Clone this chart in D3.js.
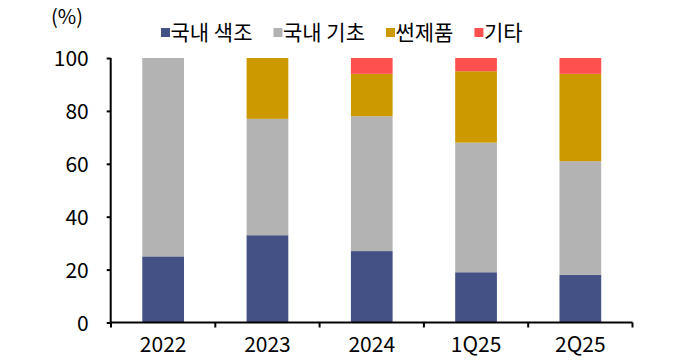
<!DOCTYPE html>
<html><head><meta charset="utf-8">
<script src="https://cdn.jsdelivr.net/npm/d3@7"></script>
<style>body{margin:0;background:#fff}svg{display:block}text{font-family:"Noto Sans CJK KR","Noto Sans",sans-serif;fill:#000}</style>
</head><body><svg id="c" width="680" height="360"></svg>
<script>
const categories = ["2022","2023","2024","1Q25","2Q25"];
const seriesNames = ["국내 색조","국내 기초","썬제품","기타"];
const seriesColors = ["#435185","#b3b3b3","#cc9900","#ff5050"];
const domesticColor = [25,33,27,19,18];
const domesticBasic = [75,44,51,49,43];
const sunProducts = [0,23,16,27,33];
const others = [0,0,6,5,6];
const yTicks = [0,20,40,60,80,100];

const rows = categories.map((c,i)=>({cat:c, s0:domesticColor[i], s1:domesticBasic[i], s2:sunProducts[i], s3:others[i]}));
const keys = ["s0","s1","s2","s3"];
const stack = d3.stack().keys(keys)(rows);

const svg = d3.select("#c");
const x = d3.scaleBand().domain(categories).range([111,632.5]).paddingInner(0.6).paddingOuter(0.3);
const y = d3.scaleLinear().domain([0,100]).range([322.5,58]);

// bars
svg.append("g").selectAll("g").data(stack).join("g")
  .attr("fill",(d,i)=>seriesColors[i])
  .selectAll("rect").data(d=>d).join("rect")
  .attr("x",d=>x(d.data.cat)).attr("width",x.bandwidth())
  .attr("y",d=>y(d[1])).attr("height",d=>y(d[0])-y(d[1]));

// y axis
const ya = svg.append("g").attr("transform","translate(110.7,0)")
  .call(d3.axisLeft(y).tickValues(yTicks).tickSize(4).tickPadding(18).tickFormat(d3.format("d")));
ya.select(".domain").attr("d",`M0,${y(100)}V${y(0)}`).attr("stroke","#000").attr("stroke-width",2);
ya.selectAll(".tick line").attr("stroke","#000").attr("stroke-width",2);
ya.selectAll(".tick text").attr("font-size",21).attr("dy","0.36em");

// x axis
const step = x.step();
const bounds = categories.map(c=>x(c)-step*x.paddingInner()/2).concat([x(categories[categories.length-1])+x.bandwidth()+step*x.paddingInner()/2]);
const xa = svg.append("g");
xa.append("line").attr("x1",bounds[0]).attr("x2",bounds[bounds.length-1]).attr("y1",y(0)).attr("y2",y(0)).attr("stroke","#000").attr("stroke-width",2);
xa.selectAll("line.t").data(bounds).join("line").attr("class","t")
  .attr("x1",d=>d).attr("x2",d=>d).attr("y1",y(0)).attr("y2",y(0)+5).attr("stroke","#000").attr("stroke-width",2);
xa.selectAll("text").data(categories).join("text")
  .attr("x",d=>x(d)+x.bandwidth()/2).attr("y",352).attr("text-anchor","middle").attr("font-size",21).text(d=>d);

// unit
svg.append("text").attr("x",51).attr("y",24).attr("font-size",20).text("(%)");

// legend
const lg = svg.append("g");
let lx = 161;
seriesNames.forEach((n,i)=>{
  lg.append("rect").attr("x",lx).attr("y",28).attr("width",9).attr("height",9).attr("fill",seriesColors[i]);
  const t = lg.append("text").attr("x",lx+9.5).attr("y",40).attr("font-size",21).text(n);
  lx += 9.5 + t.node().getComputedTextLength() + 21;
});
</script></body></html>
